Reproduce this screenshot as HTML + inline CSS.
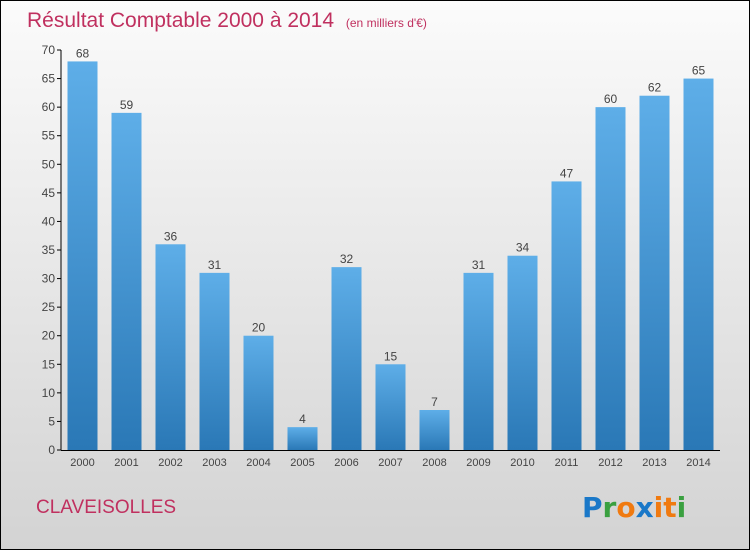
<!DOCTYPE html>
<html><head><meta charset="utf-8"><style>
body{margin:0;width:750px;height:550px;overflow:hidden;font-family:"Liberation Sans",sans-serif}
#frame{position:absolute;left:0;top:0;width:748px;height:548px;border:1px solid #000;background:linear-gradient(#fbfbfb,#d3d3d3)}
</style></head><body>
<div id="frame">
<svg width="750" height="550" style="position:absolute;left:-1px;top:-1px" id="chart">
<defs><linearGradient id="bg" x1="0" y1="0" x2="0" y2="1"><stop offset="0" stop-color="#5eaee8"/><stop offset="1" stop-color="#2a78b6"/></linearGradient></defs>
<text x="27" y="27" font-size="21" fill="#c0305f">Résultat Comptable 2000 à 2014 <tspan font-size="12" dx="6">(en milliers d'€)</tspan></text>
<text x="36" y="513" font-size="19" fill="#c0305f">CLAVEISOLLES</text>
<g font-size="28" font-weight="bold" font-family="DejaVu Sans, sans-serif">
<text x="582" y="517"><tspan fill="#1a78c8">P</tspan><tspan fill="#3aa040">r</tspan><tspan fill="#f07a10">o</tspan><tspan fill="#1a78c8">x</tspan><tspan fill="#f07a10">i</tspan><tspan fill="#f07a10">t</tspan><tspan fill="#3aa040">i</tspan></text></g>
<g id="plot"></g>
</svg></div>
<script>
const categories=["2000","2001","2002","2003","2004","2005","2006","2007","2008","2009","2010","2011","2012","2013","2014"];
const values=[68,59,36,31,20,4,32,15,7,31,34,47,60,62,65];
const yTicks=[0,5,10,15,20,25,30,35,40,45,50,55,60,65,70];
const NS="http://www.w3.org/2000/svg";
const g=document.getElementById('plot');
const y=v=>450-v*400/70;
const x=i=>82.5+i*44;
function mk(t,a){const e=document.createElementNS(NS,t);for(const k in a)e.setAttribute(k,a[k]);g.appendChild(e);return e;}
let ax=mk('line',{x1:61,y1:50,x2:61,y2:450,stroke:'#000'});


let bx=mk('line',{x1:61,y1:450.5,x2:720,y2:450.5,stroke:'#000'});


yTicks.forEach(t=>{
 const l=mk('line',{x1:57,x2:61,y1:y(t),y2:y(t),stroke:'#000'});
 
 
 const tx=mk('text',{x:55,y:y(t)+4,'font-size':12,fill:'#444','text-anchor':'end'});
 tx.textContent=t;
 
 
});
categories.forEach((c,i)=>{
 const v=values[i];
 const r=mk('rect',{x:x(i)-15,y:y(v),width:30,height:450-y(v),fill:'url(#bg)'});
 
 
 const vl=mk('text',{x:x(i),y:y(v)-4,'font-size':12,fill:'#444','text-anchor':'middle'});
 vl.textContent=v;
 
 
 const xl=mk('text',{x:x(i),y:466,'font-size':11,fill:'#444','text-anchor':'middle'});
 xl.textContent=c;
 
 
});
</script>
</body></html>
